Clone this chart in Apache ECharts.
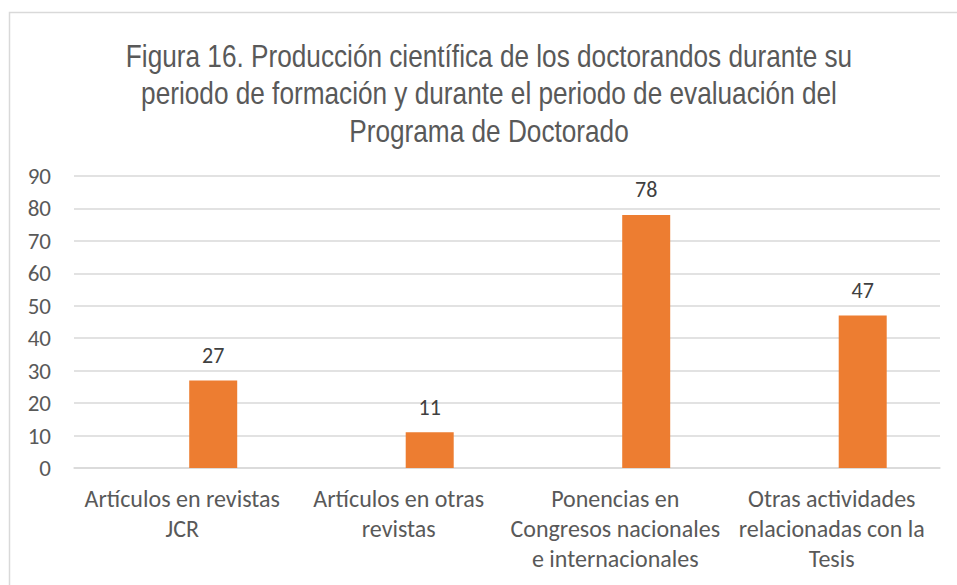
<!DOCTYPE html>
<html>
<head>
<meta charset="utf-8">
<script src="https://cdn.jsdelivr.net/npm/echarts@6/dist/echarts.min.js"></script>
<style>
  html, body { margin: 0; padding: 0; background: #fff; }
  #chart { width: 957px; height: 585px; }
</style>
</head>
<body>
<div id="chart"></div>
<script>
var categories = [
  'Artículos en revistas\nJCR',
  'Artículos en otras\nrevistas',
  'Ponencias en\nCongresos nacionales\ne internacionales',
  'Otras actividades\nrelacionadas con la\nTesis'
];
var values = [27, 11, 78, 47];
// empty first series in the original workbook, keeps the bars off-centre
var emptySeries = ['-', '-', '-', '-'];
var yTicks = { min: 0, max: 90, interval: 10 };

var titleText = 'Figura 16. Producción científica de los doctorandos durante su\n' +
  'periodo de formación y durante el periodo de evaluación del\n' +
  'Programa de Doctorado';

var labelFont = 'Carlito, Calibri, "Open Sans", sans-serif';

var chart = echarts.init(document.getElementById('chart'), null, { renderer: 'svg' });

chart.setOption({
  animation: false,
  backgroundColor: '#fff',
  graphic: [{
    type: 'rect',
    shape: { x: 9.5, y: 12.5, width: 1000, height: 700 },
    style: { fill: 'none', stroke: '#d9d9d9', lineWidth: 1.5 },
    silent: true
  }, {
    // narrow title, Arial Narrow look
    type: 'text',
    x: 489,
    y: 37,
    scaleX: 0.845,
    silent: true,
    style: {
      text: titleText,
      fontFamily: '"Liberation Sans", Arial, sans-serif',
      fontSize: 31,
      lineHeight: 37.5,
      fill: '#595959',
      align: 'center',
      verticalAlign: 'top'
    }
  }],
  grid: { left: 74, right: 17, top: 176, bottom: 117 },
  xAxis: {
    type: 'category',
    data: categories,
    axisLine: { lineStyle: { color: '#d9d9d9', width: 1.5 } },
    axisTick: { show: false },
    axisLabel: {
      interval: 0,
      margin: 15,
      fontFamily: labelFont,
      fontSize: 24,
      lineHeight: 30,
      color: '#595959'
    }
  },
  yAxis: {
    type: 'value',
    min: yTicks.min,
    max: yTicks.max,
    interval: yTicks.interval,
    axisLine: { show: false },
    axisTick: { show: false },
    axisLabel: {
      margin: 23,
      fontFamily: labelFont,
      fontSize: 23,
      color: '#595959'
    },
    splitLine: { lineStyle: { color: '#d9d9d9', width: 1.5 } }
  },
  series: [{
    name: 'vacía',
    type: 'bar',
    data: emptySeries,
    barWidth: 48,
    barGap: '29%'
  }, {
    name: 'Producción',
    type: 'bar',
    data: values,
    barWidth: 48,
    barGap: '29%',
    itemStyle: { color: '#ed7d31' },
    label: {
      show: true,
      position: 'top',
      distance: 14,
      fontFamily: labelFont,
      fontSize: 22,
      color: '#404040'
    }
  }]
});
</script>
</body>
</html>
